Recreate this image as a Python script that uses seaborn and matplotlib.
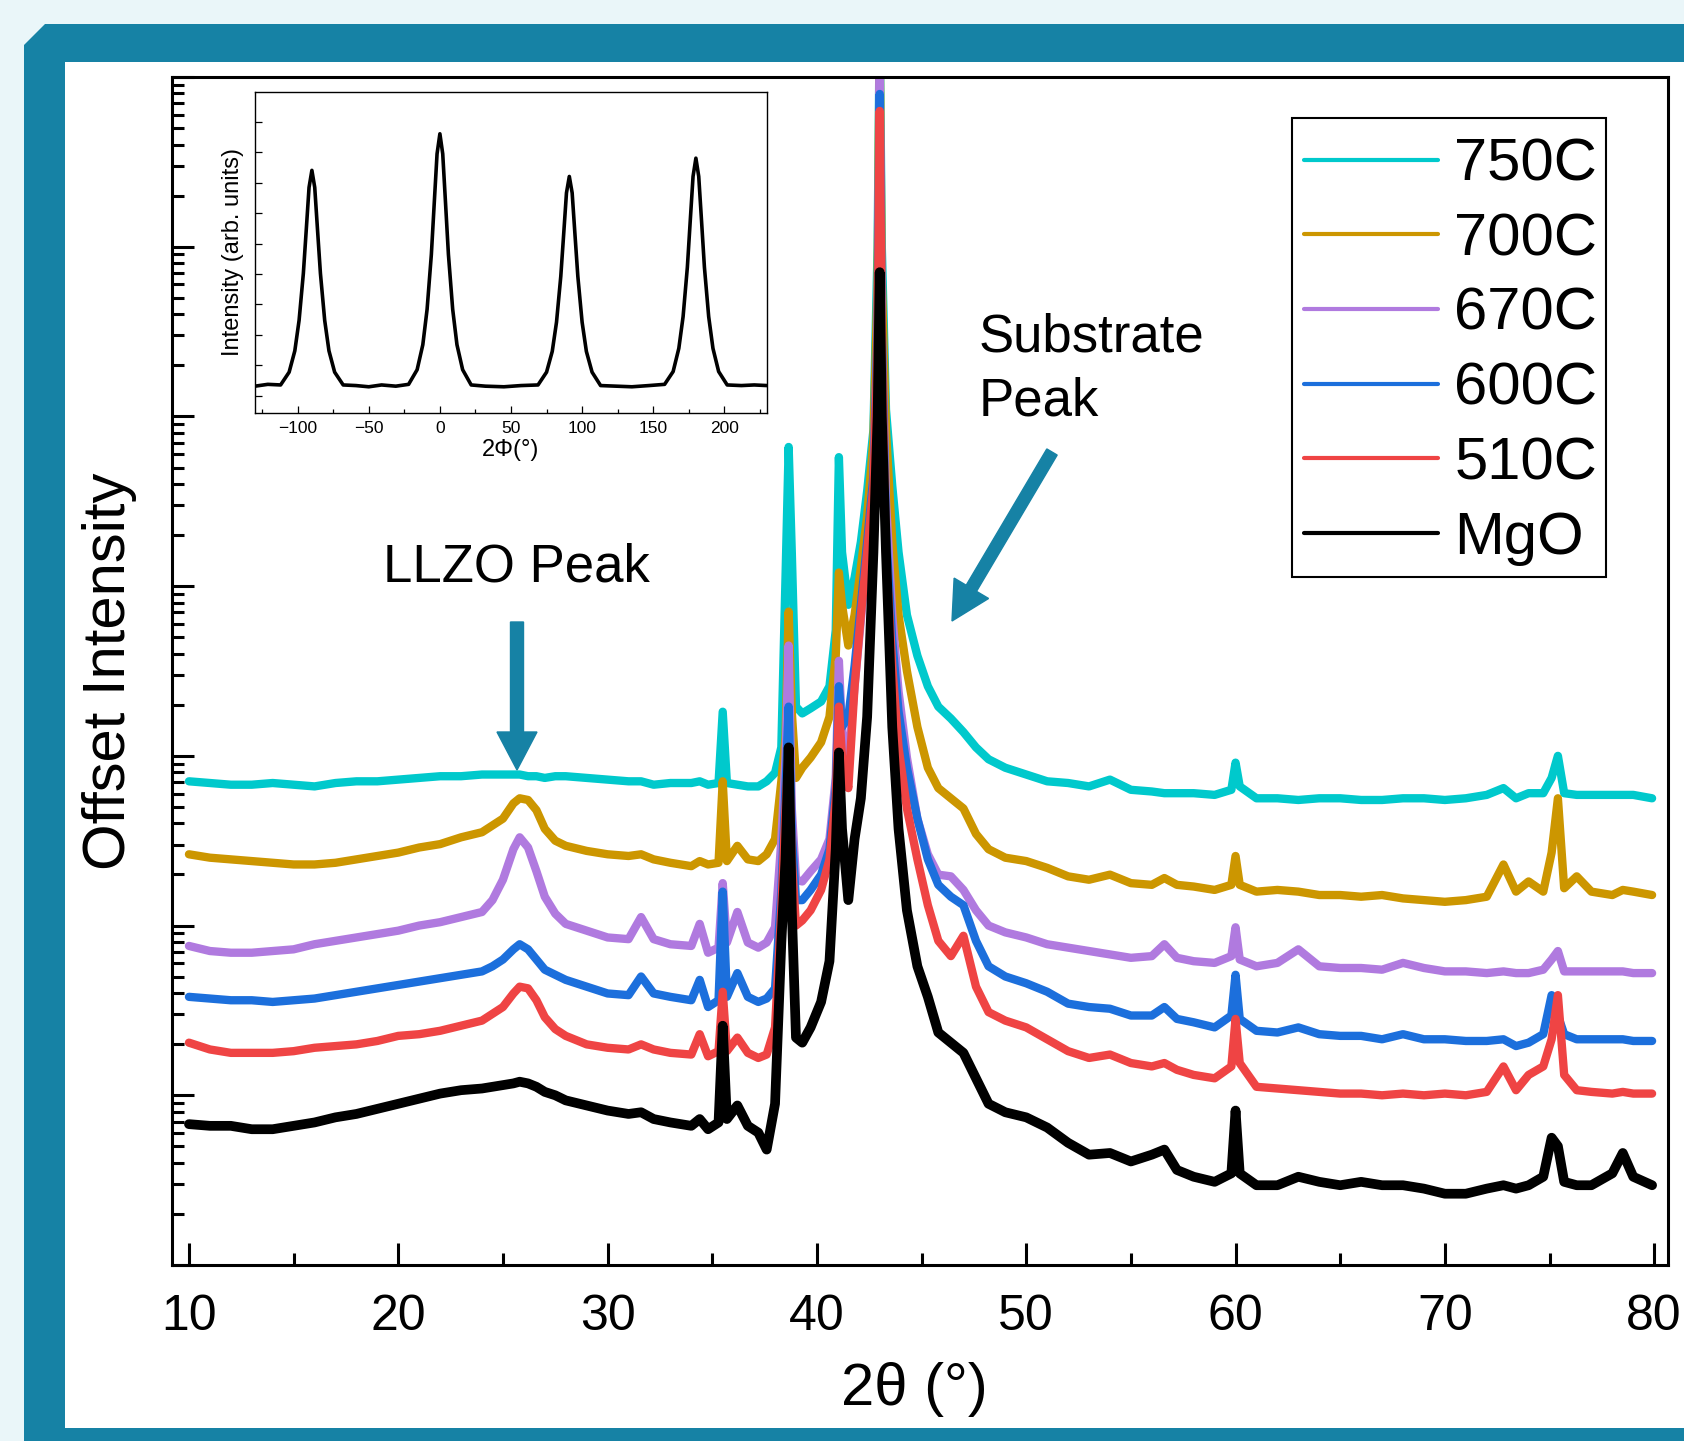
import numpy as np
import pandas as pd
import seaborn as sns
import matplotlib.pyplot as plt
from matplotlib.patches import Polygon, Rectangle, FancyArrow
from matplotlib.ticker import MultipleLocator, LogLocator, NullFormatter

sns.set_style('ticks')
plt.rcParams['font.family'] = ['Liberation Sans', 'DejaVu Sans']
plt.rcParams.update({'text.color': 'black', 'axes.labelcolor': 'black', 'axes.edgecolor': 'black',
                     'xtick.color': 'black', 'ytick.color': 'black'})

# 2theta grid (deg) shared by all scans
two_theta = [10, 11, 12, 13, 14, 15, 16, 17, 18, 19, 20, 21, 22, 23, 24,
             24.5, 25, 25.5, 25.8, 26.2, 26.6, 27, 27.5, 28, 29, 30,
             31, 31.6, 32.2, 33, 34, 34.4, 34.8, 35.3, 35.5, 35.7, 36.2, 36.7, 37.2, 37.6,
             38.0, 38.3, 38.5, 38.65, 38.8, 39.0, 39.3, 39.7, 40.2, 40.6, 40.9, 41.05, 41.2, 41.5, 41.8,
             42.1, 42.4, 42.7, 42.9, 43.0, 43.1, 43.3, 43.6, 43.9, 44.3, 44.8, 45.3, 45.8, 46.4, 47.0, 47.6, 48.2,
             49, 50, 51, 52, 53, 54, 55, 56, 56.6, 57.2, 58, 59, 59.8, 60.0, 60.2,
             61, 62, 63, 64, 65, 66, 67, 68, 69, 70, 71, 72,
             72.8, 73.4, 74, 74.7, 75.1, 75.4, 75.7, 76.3, 77, 78, 78.5, 79, 79.9]

# log10 of offset intensity
log_750 = [2.85, 2.84, 2.83, 2.83, 2.84, 2.83, 2.82, 2.84, 2.85, 2.85, 2.86, 2.87, 2.88, 2.88, 2.89,
           2.89, 2.89, 2.89, 2.89, 2.88, 2.88, 2.87, 2.88, 2.88, 2.87, 2.86,
           2.85, 2.85, 2.83, 2.84, 2.84, 2.85, 2.83, 2.84, 3.26, 2.84, 2.83, 2.82, 2.82, 2.85,
           2.90, 3.05, 4.05, 4.82, 4.20, 3.29, 3.25, 3.28, 3.32, 3.41, 3.74, 4.76, 4.20, 3.89, 4.05,
           4.26, 4.56, 4.92, 6.0, 7.3, 6.0, 5.04, 4.59, 4.20, 3.83, 3.59, 3.41, 3.29, 3.22, 3.14, 3.05, 2.98,
           2.93, 2.89, 2.85, 2.84, 2.82, 2.86, 2.80, 2.79, 2.78, 2.78, 2.78, 2.77, 2.80, 2.96, 2.82,
           2.75, 2.75, 2.74, 2.75, 2.75, 2.74, 2.74, 2.75, 2.75, 2.74, 2.75, 2.77,
           2.81, 2.75, 2.78, 2.78, 2.87, 3.00, 2.78, 2.77, 2.77, 2.77, 2.77, 2.77, 2.75]
log_700 = [2.42, 2.40, 2.39, 2.38, 2.37, 2.36, 2.36, 2.37, 2.39, 2.41, 2.43, 2.46, 2.48, 2.52, 2.55,
           2.59, 2.63, 2.72, 2.75, 2.74, 2.68, 2.57, 2.50, 2.47, 2.44, 2.42,
           2.41, 2.42, 2.39, 2.37, 2.35, 2.38, 2.36, 2.37, 2.85, 2.38, 2.47, 2.39, 2.38, 2.42,
           2.51, 2.85, 3.11, 3.85, 3.26, 2.87, 2.93, 2.99, 3.08, 3.23, 3.59, 4.08, 3.89, 3.65, 3.83,
           4.11, 4.41, 4.86, 5.8, 7.2, 5.8, 4.92, 4.26, 3.83, 3.50, 3.17, 2.93, 2.81, 2.75, 2.69, 2.54, 2.45,
           2.40, 2.38, 2.34, 2.29, 2.27, 2.30, 2.25, 2.24, 2.28, 2.24, 2.23, 2.21, 2.24, 2.41, 2.24,
           2.20, 2.21, 2.20, 2.18, 2.18, 2.17, 2.18, 2.16, 2.15, 2.14, 2.15, 2.17,
           2.36, 2.20, 2.26, 2.20, 2.43, 2.75, 2.22, 2.29, 2.20, 2.18, 2.21, 2.20, 2.18]
log_670 = [1.88, 1.85, 1.84, 1.84, 1.85, 1.86, 1.89, 1.91, 1.93, 1.95, 1.97, 2.00, 2.02, 2.05, 2.08,
           2.15, 2.27, 2.45, 2.52, 2.46, 2.32, 2.17, 2.07, 2.01, 1.97, 1.93,
           1.92, 2.05, 1.92, 1.89, 1.88, 2.01, 1.84, 1.87, 2.25, 1.90, 2.08, 1.90, 1.87, 1.90,
           1.99, 2.50, 2.99, 3.65, 2.69, 2.27, 2.26, 2.32, 2.39, 2.51, 2.87, 3.56, 3.14, 2.99, 3.41,
           3.80, 4.20, 4.65, 5.5, 7.0, 5.5, 4.50, 3.83, 3.38, 2.99, 2.63, 2.42, 2.30, 2.29, 2.21, 2.09, 2.00,
           1.96, 1.93, 1.89, 1.87, 1.85, 1.83, 1.81, 1.82, 1.89, 1.81, 1.79, 1.78, 1.82, 1.99, 1.80,
           1.76, 1.78, 1.86, 1.76, 1.75, 1.75, 1.74, 1.78, 1.75, 1.73, 1.73, 1.72,
           1.73, 1.72, 1.72, 1.74, 1.80, 1.85, 1.73, 1.73, 1.73, 1.73, 1.73, 1.72, 1.72]
log_600 = [1.58, 1.57, 1.56, 1.56, 1.55, 1.56, 1.57, 1.59, 1.61, 1.63, 1.65, 1.67, 1.69, 1.71, 1.73,
           1.76, 1.80, 1.86, 1.89, 1.86, 1.80, 1.74, 1.71, 1.68, 1.64, 1.60,
           1.59, 1.70, 1.60, 1.58, 1.56, 1.68, 1.52, 1.56, 2.20, 1.58, 1.72, 1.58, 1.55, 1.57,
           1.63, 2.20, 2.81, 3.29, 2.54, 2.15, 2.15, 2.21, 2.30, 2.45, 2.81, 3.41, 3.17, 3.23, 3.53,
           3.89, 4.26, 4.65, 5.5, 6.9, 5.5, 4.32, 3.68, 3.26, 2.93, 2.63, 2.39, 2.24, 2.17, 2.12, 1.91, 1.76,
           1.70, 1.66, 1.61, 1.54, 1.52, 1.51, 1.47, 1.47, 1.52, 1.45, 1.43, 1.40, 1.47, 1.71, 1.45,
           1.38, 1.37, 1.40, 1.36, 1.35, 1.35, 1.33, 1.36, 1.33, 1.33, 1.32, 1.32,
           1.33, 1.29, 1.31, 1.36, 1.59, 1.47, 1.36, 1.33, 1.33, 1.33, 1.33, 1.32, 1.32]
log_510 = [1.31, 1.27, 1.25, 1.25, 1.25, 1.26, 1.28, 1.29, 1.30, 1.32, 1.35, 1.36, 1.38, 1.41, 1.44,
           1.48, 1.52, 1.60, 1.64, 1.63, 1.56, 1.46, 1.39, 1.35, 1.30, 1.28,
           1.27, 1.30, 1.27, 1.25, 1.24, 1.36, 1.23, 1.26, 1.61, 1.26, 1.34, 1.25, 1.22, 1.24,
           1.40, 2.10, 2.69, 3.05, 2.39, 2.00, 2.03, 2.09, 2.21, 2.39, 2.75, 3.29, 2.99, 2.81, 3.41,
           3.83, 4.20, 4.59, 5.4, 6.8, 5.4, 4.20, 3.53, 3.05, 2.69, 2.39, 2.12, 1.91, 1.82, 1.94, 1.64, 1.49,
           1.44, 1.40, 1.33, 1.26, 1.22, 1.24, 1.19, 1.17, 1.19, 1.15, 1.12, 1.10, 1.17, 1.45, 1.19,
           1.05, 1.04, 1.03, 1.02, 1.01, 1.01, 1.00, 1.01, 1.00, 1.01, 1.00, 1.02,
           1.17, 1.03, 1.12, 1.17, 1.33, 1.59, 1.12, 1.03, 1.02, 1.01, 1.02, 1.01, 1.01]
log_mgo = [0.83, 0.82, 0.82, 0.80, 0.80, 0.82, 0.84, 0.87, 0.89, 0.92, 0.95, 0.98, 1.01, 1.03, 1.04,
           1.05, 1.06, 1.07, 1.08, 1.07, 1.05, 1.02, 1.00, 0.97, 0.94, 0.91,
           0.89, 0.90, 0.86, 0.84, 0.82, 0.86, 0.80, 0.84, 1.41, 0.86, 0.94, 0.82, 0.78, 0.68,
           0.95, 1.90, 2.39, 3.05, 2.09, 1.34, 1.31, 1.40, 1.55, 1.79, 2.45, 3.02, 2.57, 2.15, 2.51,
           2.75, 3.23, 4.20, 5.0, 5.85, 5.0, 4.20, 3.17, 2.57, 2.09, 1.76, 1.58, 1.37, 1.31, 1.25, 1.10, 0.95,
           0.90, 0.87, 0.81, 0.72, 0.65, 0.66, 0.61, 0.65, 0.68, 0.56, 0.52, 0.49, 0.54, 0.91, 0.54,
           0.47, 0.47, 0.52, 0.49, 0.47, 0.49, 0.47, 0.47, 0.45, 0.42, 0.42, 0.45,
           0.47, 0.45, 0.47, 0.52, 0.75, 0.70, 0.49, 0.47, 0.47, 0.54, 0.66, 0.52, 0.47]

samples = ['750C', '700C', '670C', '600C', '510C', 'MgO']
colors = ['#00c9cc', '#cc9600', '#b07adf', '#1c6fdc', '#ef4444', '#000000']
scans = [log_750, log_700, log_670, log_600, log_510, log_mgo]

# inset phi scan
inset_phi = [-130, -121, -112, -106, -102, -99, -96, -94, -92, -90, -88, -86, -84, -81, -78, -74, -68,
             -59, -50, -41, -31, -22, -16, -12, -9, -6, -4, -2, 0, 2, 4, 6, 9, 12, 16, 22,
             32, 45, 57, 69, 75, 79, 82, 85, 87, 89, 91, 93, 95, 97, 100, 103, 107, 113,
             124, 135, 147, 158, 164, 168, 171, 174, 176, 178, 180, 182, 184, 186, 189, 192, 196, 202,
             212, 221, 230]
inset_counts = [1160, 1190, 1180, 1390, 1740, 2240, 3010, 3710, 4420, 4700, 4420, 3710, 3010, 2240, 1740, 1390, 1180,
                1170, 1150, 1180, 1160, 1190, 1430, 1840, 2420, 3320, 4150, 4970, 5300, 4970, 4150, 3320, 2420, 1840, 1430, 1180,
                1160, 1150, 1170, 1180, 1390, 1730, 2210, 2960, 3640, 4330, 4600, 4330, 3640, 2960, 2210, 1730, 1390, 1170,
                1160, 1150, 1170, 1190, 1400, 1780, 2300, 3110, 3860, 4600, 4900, 4600, 3860, 3110, 2300, 1780, 1400, 1180,
                1170, 1180, 1170]

df = pd.DataFrame({
    'two_theta': two_theta * len(samples),
    'intensity': 10 ** np.concatenate([np.array(s) for s in scans]),
    'sample': np.repeat(samples, len(two_theta)),
})

teal = '#1682a5'
fig = plt.figure(figsize=(16.84, 14.41), dpi=100, facecolor='#eaf6f9')

# slide frame
fig.add_artist(Polygon([(0.24, 0.0), (0.24, 13.96), (0.45, 14.17), (16.84, 14.17), (16.84, 0.0)],
                       closed=True, facecolor=teal, edgecolor='none',
                       transform=fig.dpi_scale_trans, zorder=-3))
fig.add_artist(Rectangle((0.65, 0.13), 16.19, 13.66, facecolor='white', edgecolor='none',
                         transform=fig.dpi_scale_trans, zorder=-2))

# main panel
ax = fig.add_axes([172 / 1684, 1 - 1265 / 1441, 1496 / 1684, 1188 / 1441])
for s, c in zip(samples, colors):
    sns.lineplot(data=df[df['sample'] == s], x='two_theta', y='intensity', color=c,
                 lw=7 if s == 'MgO' else 6, label=s, ax=ax, sort=False, estimator=None)

ax.set_yscale('log')
ax.set_xlim(9.19, 80.66)
ax.set_ylim(1, 1e7)
ax.xaxis.set_major_locator(MultipleLocator(10))
ax.xaxis.set_minor_locator(MultipleLocator(5))
ax.yaxis.set_major_locator(LogLocator(base=10, numticks=20))
ax.yaxis.set_minor_locator(LogLocator(base=10, subs=np.arange(2, 10), numticks=20))
ax.yaxis.set_major_formatter(NullFormatter())
ax.yaxis.set_minor_formatter(NullFormatter())
ax.tick_params(which='both', direction='in', top=False, right=False, width=2.2)
ax.tick_params(which='major', length=16, labelsize=36, pad=21)
ax.tick_params(which='minor', length=8.5)
for sp in ax.spines.values():
    sp.set_linewidth(2.2)

ax.set_xlabel('2θ (°)', fontsize=43)
ax.xaxis.label.set_verticalalignment('baseline')
ax.xaxis.set_label_coords(0.496, -0.118)
ax.set_ylabel('Offset Intensity', fontsize=43)
ax.yaxis.set_label_coords(-0.0234, 0.5)

# legend entries without frame; box drawn separately
leg = ax.legend(loc='upper left', bbox_to_anchor=(1292 / 1684, 1 - 125.5 / 1441),
                bbox_transform=fig.transFigure, borderaxespad=0, fontsize=43,
                frameon=False, borderpad=0.2, labelspacing=0.33,
                handlelength=2.24, handletextpad=0.28)
for line in leg.get_lines():
    line.set_linewidth(3)
fig.add_artist(Rectangle((12.92, (1441 - 577) / 100), 3.14, 4.59, facecolor='none',
                         edgecolor='black', lw=1.5, transform=fig.dpi_scale_trans, zorder=4))

# inset phi scan
ax_in = fig.add_axes([255 / 1684, 1 - 413 / 1441, 512 / 1684, 321 / 1441])
sns.lineplot(x=inset_phi, y=inset_counts, color='black', lw=2.6, ax=ax_in, sort=False, estimator=None)
ax_in.set_xlim(-130, 230)
ax_in.set_ylim(720, 5985)
ax_in.xaxis.set_major_locator(MultipleLocator(50))
ax_in.xaxis.set_minor_locator(MultipleLocator(25))
ax_in.yaxis.set_major_locator(MultipleLocator(500))
ax_in.yaxis.set_major_formatter(NullFormatter())
ax_in.tick_params(which='both', direction='in', top=False, right=False, width=0.9)
ax_in.tick_params(which='major', length=5, labelsize=12.5, pad=6)
ax_in.tick_params(which='minor', length=3)
for sp in ax_in.spines.values():
    sp.set_linewidth(1.0)
ax_in.set_xlabel('2Φ(°)', fontsize=17, labelpad=2)
ax_in.set_ylabel('Intensity (arb. units)', fontsize=17, labelpad=2)

# annotations
fig.text(383 / 1684, 1 - 582 / 1441, 'LLZO Peak', fontsize=38, ha='left', va='baseline')
fig.text(979 / 1684, 1 - 352 / 1441, 'Substrate', fontsize=38, ha='left', va='baseline')
fig.text(979 / 1684, 1 - 415 / 1441, 'Peak', fontsize=38, ha='left', va='baseline')

fig.add_artist(FancyArrow(5.17, (1441 - 622) / 100, 0, -1.48, width=0.13, head_width=0.40,
                          head_length=0.38, length_includes_head=True, color=teal,
                          transform=fig.dpi_scale_trans, zorder=5))
fig.add_artist(FancyArrow(10.52, (1441 - 452) / 100, -1.0, -1.69, width=0.12, head_width=0.40,
                          head_length=0.38, length_includes_head=True, color=teal,
                          transform=fig.dpi_scale_trans, zorder=5))

fig.savefig('out.png', dpi=100, facecolor=fig.get_facecolor())
